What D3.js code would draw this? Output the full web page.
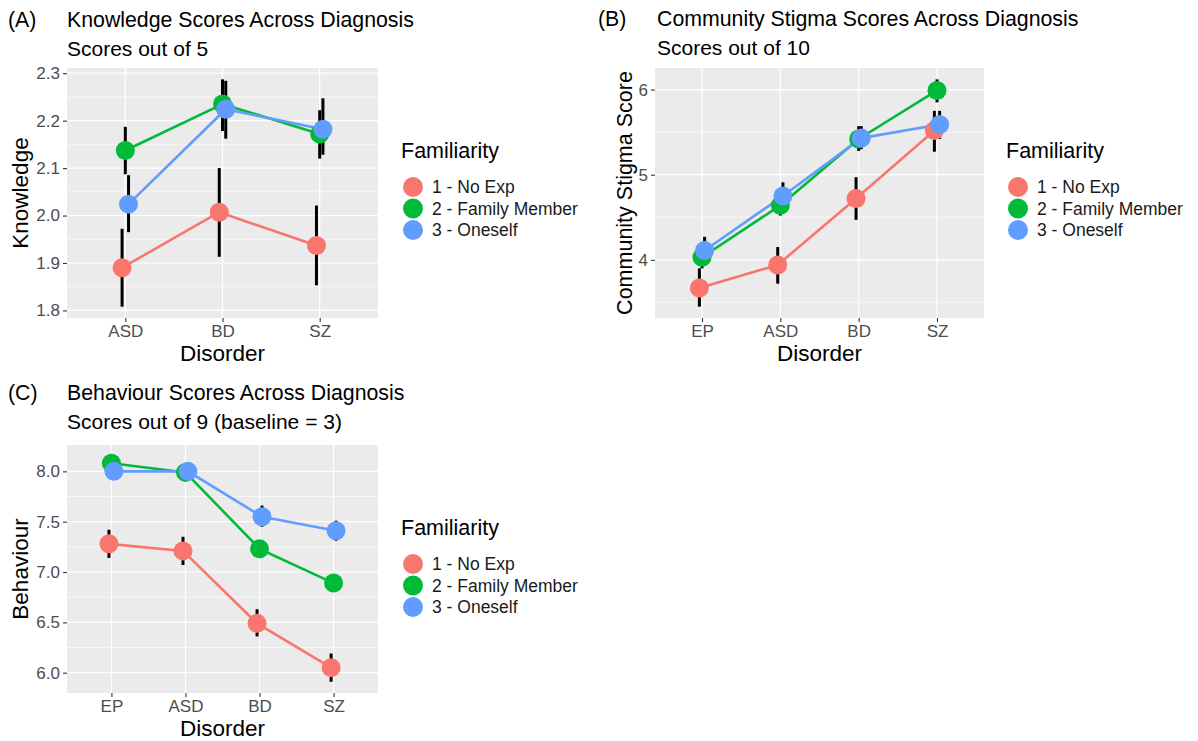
<!DOCTYPE html>
<meta charset="utf-8">
<style>
  body { margin: 0; background: #fff; }
  svg text { font-family: "Liberation Sans", Arial, sans-serif; }
  .tick text { fill: #4d4d4d; font-size: 17px; }
  .tick line { stroke: #333; stroke-width: 1.1; }
  .domain { display: none; }
</style>
<body>
<script src="https://cdn.jsdelivr.net/npm/d3@7"></script>
<script>
// groups
var familiarity = ["1 - No Exp", "2 - Family Member", "3 - Oneself"];
var groupColors = ["#F8766D", "#00BA38", "#619CFF"];

// (A) knowledge
var knowCats = ["ASD", "BD", "SZ"];
var knowMean = [[1.890, 2.007, 1.937], [2.137, 2.235, 2.172], [2.024, 2.224, 2.182]];
var knowLo   = [[1.808, 1.913, 1.853], [2.087, 2.178, 2.120], [1.965, 2.162, 2.128]];
var knowHi   = [[1.972, 2.100, 2.021], [2.187, 2.287, 2.222], [2.085, 2.284, 2.247]];
var knowTicks = [1.8, 1.9, 2.0, 2.1, 2.2, 2.3];
var knowMinor = [1.85, 1.95, 2.05, 2.15, 2.25];

// (B) community stigma
var stigCats = ["EP", "ASD", "BD", "SZ"];
var stigMean = [[3.67, 3.94, 4.72, 5.52], [4.03, 4.64, 5.42, 5.99], [4.11, 4.75, 5.43, 5.59]];
var stigLo   = [[3.45, 3.72, 4.47, 5.27], [3.90, 4.52, 5.28, 5.85], [3.98, 4.60, 5.30, 5.42]];
var stigHi   = [[3.90, 4.15, 4.97, 5.75], [4.18, 4.78, 5.57, 6.12], [4.27, 4.91, 5.57, 5.75]];
var stigTicks = [4, 5, 6];
var stigMinor = [3.5, 4.5, 5.5];

// (C) behaviour
var behCats = ["EP", "ASD", "BD", "SZ"];
var behMean = [[7.28, 7.21, 6.49, 6.05], [8.08, 7.99, 7.23, 6.89], [8.00, 8.00, 7.55, 7.41]];
var behLo   = [[7.14, 7.07, 6.36, 5.91], [8.00, 7.92, 7.16, 6.82], [7.93, 7.93, 7.45, 7.31]];
var behHi   = [[7.42, 7.35, 6.63, 6.19], [8.15, 8.06, 7.30, 6.96], [8.07, 8.07, 7.66, 7.51]];
var behTicks = [6.0, 6.5, 7.0, 7.5, 8.0];
var behMinor = [6.25, 6.75, 7.25, 7.75];

var dodge = 0.1; // position_dodge width, in category steps

var svg = d3.select("body").append("svg")
    .attr("width", 1198)
    .attr("height", 741);

function drawPanel(p) {
    var g = svg.append("g");

    var all = d3.merge(p.lo.concat(p.hi));
    var mn = d3.min(all), mx = d3.max(all), pad = (mx - mn) * 0.05;

    var x = d3.scalePoint().domain(p.cats).range([p.x0, p.x1]).padding(0.6);
    var y = d3.scaleLinear().domain([mn - pad, mx + pad]).range([p.y1, p.y0]);
    var n = p.mean.length;
    function xd(i, gi) {
        return x(p.cats[i]) + (gi - (n - 1) / 2) * dodge / n * x.step();
    }

    // panel + grid
    g.append("rect")
        .attr("x", p.x0).attr("y", p.y0)
        .attr("width", p.x1 - p.x0).attr("height", p.y1 - p.y0)
        .attr("fill", "#ebebeb");
    g.selectAll(".minor").data(p.minor).enter().append("line")
        .attr("x1", p.x0).attr("x2", p.x1)
        .attr("y1", function (d) { return y(d); }).attr("y2", function (d) { return y(d); })
        .attr("stroke", "#fff").attr("stroke-width", 0.6);
    g.selectAll(".major").data(p.ticks).enter().append("line")
        .attr("x1", p.x0).attr("x2", p.x1)
        .attr("y1", function (d) { return y(d); }).attr("y2", function (d) { return y(d); })
        .attr("stroke", "#fff").attr("stroke-width", 1.2);
    g.selectAll(".vmajor").data(p.cats).enter().append("line")
        .attr("y1", p.y0).attr("y2", p.y1)
        .attr("x1", function (d) { return x(d); }).attr("x2", function (d) { return x(d); })
        .attr("stroke", "#fff").attr("stroke-width", 1.2);

    // axes
    g.append("g")
        .attr("transform", "translate(" + p.x0 + ",0)")
        .call(d3.axisLeft(y).tickValues(p.ticks).tickSize(4).tickPadding(3).tickFormat(d3.format(p.fmt)));
    g.append("g")
        .attr("transform", "translate(0," + p.y1 + ")")
        .call(d3.axisBottom(x).tickSize(4).tickPadding(3));

    // error bars
    p.mean.forEach(function (row, gi) {
        g.selectAll(".err" + gi).data(row).enter().append("line")
            .attr("x1", function (d, i) { return xd(i, gi); })
            .attr("x2", function (d, i) { return xd(i, gi); })
            .attr("y1", function (d, i) { return y(p.lo[gi][i]); })
            .attr("y2", function (d, i) { return y(p.hi[gi][i]); })
            .attr("stroke", "#000").attr("stroke-width", 3);
    });

    // lines
    p.mean.forEach(function (row, gi) {
        var line = d3.line()
            .x(function (d, i) { return xd(i, gi); })
            .y(function (d) { return y(d); });
        g.append("path")
            .attr("d", line(row))
            .attr("fill", "none")
            .attr("stroke", groupColors[gi])
            .attr("stroke-width", 2.6);
    });

    // points
    p.mean.forEach(function (row, gi) {
        g.selectAll(".pt" + gi).data(row).enter().append("circle")
            .attr("cx", function (d, i) { return xd(i, gi); })
            .attr("cy", function (d) { return y(d); })
            .attr("r", 9.5)
            .attr("fill", groupColors[gi]);
    });

    // titles
    g.append("text").attr("x", p.tx - 59).attr("y", p.ty)
        .attr("font-size", "21.3px").attr("fill", "#000").text(p.tag);
    g.append("text").attr("x", p.tx).attr("y", p.ty)
        .attr("font-size", "21.3px").attr("fill", "#000").text(p.title);
    g.append("text").attr("x", p.tx).attr("y", p.ty + 29)
        .attr("font-size", "21px").attr("fill", "#000").text(p.subtitle);

    // axis titles
    g.append("text")
        .attr("x", (p.x0 + p.x1) / 2).attr("y", p.y1 + 43)
        .attr("text-anchor", "middle").attr("font-size", "22.5px").text("Disorder");
    g.append("text")
        .attr("transform", "translate(" + p.ylabX + "," + (p.y0 + p.y1) / 2 + ") rotate(-90)")
        .attr("text-anchor", "middle").attr("font-size", p.ylabSize).text(p.ylab);

    // legend
    var lg = g.append("g").attr("transform", "translate(" + p.lx + "," + p.ly + ")");
    lg.append("text").attr("x", -12).attr("y", 0).attr("font-size", "21.5px").text("Familiarity");
    var items = lg.selectAll(".item").data(familiarity).enter().append("g")
        .attr("transform", function (d, i) { return "translate(0," + (29 + i * 21.5) + ")"; });
    items.append("circle").attr("r", 10)
        .attr("fill", function (d, i) { return groupColors[i]; });
    items.append("text").attr("x", 19).attr("y", 6)
        .attr("font-size", "17.5px").attr("fill", "#1a1a1a")
        .text(function (d) { return d; });
}

drawPanel({
    cats: knowCats, mean: knowMean, lo: knowLo, hi: knowHi,
    ticks: knowTicks, minor: knowMinor, fmt: ".1f",
    x0: 67, x1: 378, y0: 68, y1: 318,
    tag: "(A)", title: "Knowledge Scores Across Diagnosis", subtitle: "Scores out of 5",
    tx: 67, ty: 27, ylab: "Knowledge", ylabX: 28, ylabSize: "22.5px", lx: 413, ly: 158
});
drawPanel({
    cats: stigCats, mean: stigMean, lo: stigLo, hi: stigHi,
    ticks: stigTicks, minor: stigMinor, fmt: "d",
    x0: 655, x1: 984, y0: 68, y1: 318,
    tag: "(B)", title: "Community Stigma Scores Across Diagnosis", subtitle: "Scores out of 10",
    tx: 657, ty: 26, ylab: "Community Stigma Score", ylabX: 632, ylabSize: "21.5px", lx: 1018, ly: 158
});
drawPanel({
    cats: behCats, mean: behMean, lo: behLo, hi: behHi,
    ticks: behTicks, minor: behMinor, fmt: ".1f",
    x0: 67, x1: 378, y0: 445, y1: 693,
    tag: "(C)", title: "Behaviour Scores Across Diagnosis", subtitle: "Scores out of 9 (baseline = 3)",
    tx: 67, ty: 400, ylab: "Behaviour", ylabX: 28, ylabSize: "22.5px", lx: 413, ly: 535
});
</script>
</body>
